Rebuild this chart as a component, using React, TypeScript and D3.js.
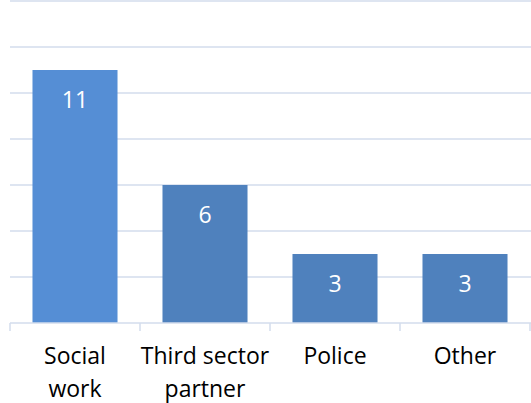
import { useEffect, useRef } from "react";
import * as d3 from "d3";

const categories = ["Social work", "Third sector partner", "Police", "Other"];
const labelLines = [["Social", "work"], ["Third sector", "partner"], ["Police"], ["Other"]];
const values = [11, 6, 3, 3];
const barColors = ["#558ED5", "#4F81BD", "#4F81BD", "#4F81BD"];
const gridTicks = [2, 4, 6, 8, 10, 12, 14];

function App() {
  const svgRef = useRef<SVGSVGElement>(null);

  useEffect(() => {
    const width = 531;
    const height = 403;
    const margin = { top: 1, right: 1, bottom: 80, left: 10 };
    const font = "'Open Sans', sans-serif";

    const svg = d3.select(svgRef.current).attr("width", width).attr("height", height);
    svg.selectAll("*").remove();

    const x = d3
      .scaleBand()
      .domain(categories)
      .range([margin.left, width - margin.right])
      .paddingInner(0.346)
      .paddingOuter(0.173);

    const y = d3
      .scaleLinear()
      .domain([0, 14])
      .range([height - margin.bottom, margin.top]);

    // gridlines
    svg
      .append("g")
      .selectAll("line")
      .data(gridTicks)
      .enter()
      .append("line")
      .attr("x1", margin.left)
      .attr("x2", width)
      .attr("y1", (d) => y(d))
      .attr("y2", (d) => y(d))
      .attr("stroke", "#D3DDEC")
      .attr("stroke-width", 1.5);

    // bars
    svg
      .append("g")
      .selectAll("rect")
      .data(values)
      .enter()
      .append("rect")
      .attr("x", (_, i) => x(categories[i]))
      .attr("y", (d) => y(d))
      .attr("width", x.bandwidth())
      .attr("height", (d) => y(0) - y(d))
      .attr("fill", (_, i) => barColors[i]);

    // value labels
    svg
      .append("g")
      .selectAll("text")
      .data(values)
      .enter()
      .append("text")
      .attr("x", (_, i) => x(categories[i]) + x.bandwidth() / 2)
      .attr("y", (d) => y(d) + 38)
      .attr("text-anchor", "middle")
      .attr("fill", "white")
      .style("font-family", font)
      .style("font-size", "23px")
      .text((d) => d);

    // x axis
    const step = x.step();
    const axis = svg.append("g");
    const base = y(0);
    axis
      .append("line")
      .attr("x1", margin.left)
      .attr("x2", width)
      .attr("y1", base)
      .attr("y2", base)
      .attr("stroke", "#D3DDEC")
      .attr("stroke-width", 1.5);
    axis
      .selectAll(".tick")
      .data(d3.range(categories.length + 1))
      .enter()
      .append("line")
      .attr("x1", (i) => margin.left + i * step)
      .attr("x2", (i) => margin.left + i * step)
      .attr("y1", base)
      .attr("y2", base + 8)
      .attr("stroke", "#D3DDEC")
      .attr("stroke-width", 1.5);

    // category labels
    categories.forEach((c, i) => {
      const t = svg
        .append("text")
        .attr("x", x(c) + x.bandwidth() / 2)
        .attr("y", base + 41)
        .attr("text-anchor", "middle")
        .attr("fill", "#000")
        .style("font-family", font)
        .style("font-size", "23px");
      labelLines[i].forEach((line, j) => {
        t.append("tspan")
          .attr("x", x(c) + x.bandwidth() / 2)
          .attr("dy", j === 0 ? 0 : 33)
          .text(line);
      });
    });
  }, []);

  return (
    <div style={{ position: "absolute", left: 0, top: 0, background: "white" }}>
      <svg ref={svgRef} style={{ display: "block" }}></svg>
    </div>
  );
}

export default App;
